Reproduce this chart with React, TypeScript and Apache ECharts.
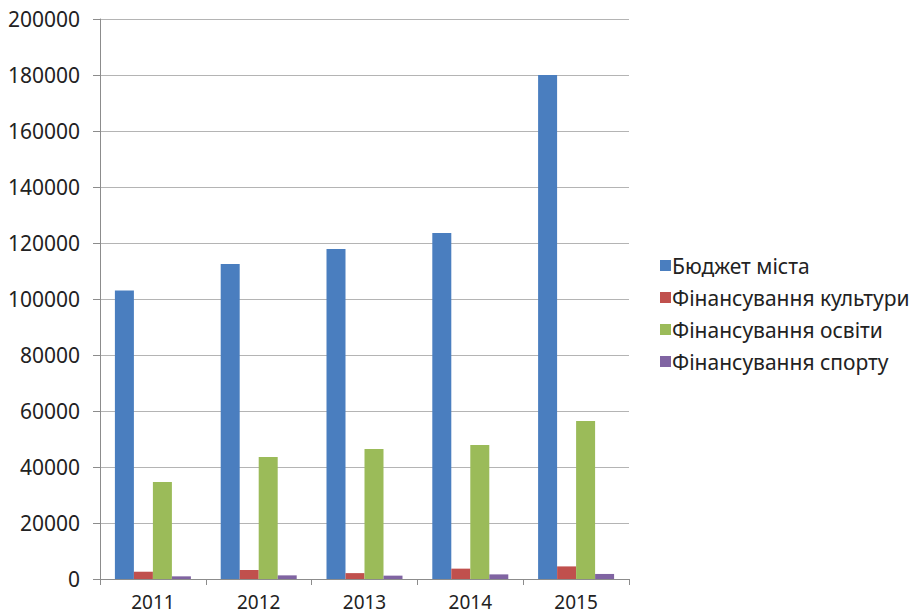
import React, { useEffect, useRef } from "react";
import * as echarts from "echarts";

const years = ["2011", "2012", "2013", "2014", "2015"];
const budget = [103000, 112500, 117900, 123600, 180000];
const culture = [2600, 3200, 2100, 3700, 4500];
const education = [34600, 43600, 46400, 47900, 56400];
const sport = [950, 1300, 1200, 1650, 1800];

const seriesNames = [
  "Бюджет міста",
  "Фінансування культури",
  "Фінансування освіти",
  "Фінансування спорту",
];
const colors = ["#4A7EBF", "#C0504D", "#9BBB59", "#8064A2"];

export default function App() {
  const ref = useRef<HTMLDivElement>(null);
  useEffect(() => {
    if (!ref.current) return;
    const chart = echarts.init(ref.current, undefined, { renderer: "svg" });
    const data = [budget, culture, education, sport];
    chart.setOption({
      animation: false,
      backgroundColor: "#ffffff",
      textStyle: { fontFamily: "Noto Sans" },
      grid: { left: 100, right: 282, top: 19, bottom: 37, containLabel: false },
      legend: {
        orient: "vertical",
        left: 655,
        top: 250,
        itemWidth: 11,
        itemHeight: 11,
        itemGap: 11,
        icon: "rect",
        textStyle: { fontSize: 21, color: "#222", fontFamily: "Noto Sans", padding: [0, 0, 0, -4] },
        data: seriesNames,
      },
      xAxis: {
        type: "category",
        data: years,
        axisLine: { lineStyle: { color: "#8c8c8c" } },
        axisTick: { show: true, length: 6, lineStyle: { color: "#8c8c8c" } },
        axisLabel: { fontSize: 19, lineHeight: 16, color: "#222", margin: 15 },
      },
      yAxis: {
        type: "value",
        min: 0,
        max: 200000,
        interval: 20000,
        axisLine: { show: true, lineStyle: { color: "#8c8c8c" } },
        axisTick: { show: true, length: 7, lineStyle: { color: "#8c8c8c" } },
        axisLabel: { fontSize: 21, color: "#222", margin: 20, formatter: (v: number) => String(v) },
        splitLine: { lineStyle: { color: "#b4b4b4" } },
      },
      series: seriesNames.map((name, i) => ({
        name,
        type: "bar",
        data: data[i],
        barWidth: 19,
        barGap: "0%",
        itemStyle: { color: colors[i] },
      })),
    });
    return () => chart.dispose();
  }, []);
  return <div ref={ref} style={{ width: 911, height: 616, position: "absolute", left: 0, top: 0 }} />;
}
